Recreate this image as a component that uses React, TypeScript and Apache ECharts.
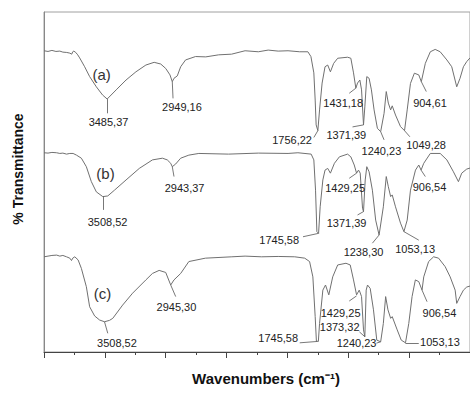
import React, { useEffect, useRef } from "react";
import * as echarts from "echarts";

// Wavenumber (cm-1), relative transmittance (offset per spectrum)
const curveA: [number, number][] = [
  [4000, 88.6], [3967, 88.4], [3935, 88.7], [3902, 88.4], [3870, 88.5], [3845, 88.2], [3813, 88.1],
  [3788, 87.9], [3772, 87.6], [3764, 88.3], [3755, 88.5], [3739, 88.1], [3723, 87.4], [3707, 86.5],
  [3666, 83.9], [3625, 81.0], [3570, 78.0], [3519, 75.6], [3481, 74.4], [3407, 77.1], [3326, 80.0],
  [3245, 82.4], [3163, 84.4], [3095, 85.2], [3041, 84.7], [3000, 83.4], [2965, 81.5], [2946, 79.5],
  [2932, 80.5], [2905, 81.2], [2877, 83.9], [2837, 85.9], [2755, 86.9], [2671, 86.8], [2565, 87.4],
  [2459, 87.6], [2348, 88.6], [2239, 88.3], [2158, 88.8], [2076, 88.5], [1995, 88.6], [1899, 88.3],
  [1832, 88.3], [1807, 86.9], [1783, 82.1], [1772, 74.1], [1764, 66.8], [1750, 65.1], [1736, 71.2],
  [1715, 79.1], [1691, 83.9], [1669, 84.4], [1647, 82.4], [1620, 84.9], [1587, 86.4], [1506, 86.7],
  [1479, 86.4], [1457, 82.1], [1438, 77.6], [1424, 79.1], [1405, 80.0], [1391, 77.1], [1375, 66.8],
  [1364, 72.1], [1348, 81.0], [1329, 80.5], [1310, 77.1], [1288, 71.2], [1261, 65.8], [1234, 64.8],
  [1206, 70.2], [1188, 76.6], [1171, 73.2], [1152, 71.2], [1139, 72.4], [1112, 69.7], [1071, 66.3],
  [1038, 65.1], [1016, 71.2], [989, 79.0], [957, 82.0], [921, 81.5], [900, 79.5], [867, 84.9],
  [826, 88.3], [786, 89.0], [745, 88.3], [690, 85.9], [650, 83.9], [609, 78.0], [582, 80.5],
  [554, 83.9], [527, 85.4], [500, 86.5],
];

const curveB: [number, number][] = [
  [4000, 58.6], [3967, 58.5], [3935, 58.7], [3896, 58.6], [3870, 58.4], [3845, 58.5], [3815, 58.2],
  [3788, 58.4], [3761, 58.4], [3733, 57.9], [3693, 57.0], [3652, 54.5], [3611, 50.1], [3570, 47.1],
  [3517, 45.7], [3476, 45.9], [3421, 47.6], [3326, 50.6], [3217, 54.0], [3109, 56.5], [3027, 57.0],
  [2987, 56.5], [2959, 55.5], [2946, 54.5], [2918, 55.3], [2877, 57.0], [2810, 57.9], [2728, 58.4],
  [2484, 58.2], [2239, 58.5], [1995, 58.4], [1914, 58.6], [1805, 58.2], [1783, 56.5], [1769, 47.6],
  [1758, 35.4], [1744, 34.9], [1731, 42.7], [1709, 50.6], [1691, 53.5], [1669, 54.0], [1647, 52.6],
  [1614, 55.5], [1573, 57.4], [1506, 58.2], [1479, 57.4], [1451, 55.0], [1432, 52.6], [1416, 53.5],
  [1402, 52.6], [1383, 42.3], [1375, 41.3], [1361, 50.6], [1348, 54.5], [1329, 53.0], [1302, 47.6],
  [1275, 38.8], [1247, 34.4], [1212, 42.7], [1188, 51.6], [1171, 48.6], [1152, 45.7], [1139, 46.2],
  [1112, 42.7], [1071, 37.9], [1043, 35.4], [1016, 38.8], [989, 47.6], [948, 53.5], [921, 55.0],
  [902, 53.5], [880, 55.5], [826, 58.4], [745, 58.4], [690, 56.5], [636, 53.0], [595, 50.1],
  [568, 52.6], [527, 53.8], [500, 54.1],
];

const curveC: [number, number][] = [
  [4000, 28.0], [3967, 28.2], [3935, 28.4], [3896, 28.5], [3870, 28.2], [3845, 28.4], [3815, 28.0],
  [3788, 27.6], [3774, 26.9], [3764, 27.6], [3747, 28.0], [3720, 27.1], [3693, 24.6], [3652, 19.2],
  [3625, 13.3], [3584, 10.6], [3543, 9.4], [3503, 8.9], [3462, 9.3], [3435, 9.9], [3354, 13.8],
  [3272, 17.3], [3163, 21.2], [3109, 23.1], [3054, 24.0], [3000, 23.4], [2959, 19.7], [2932, 21.2],
  [2877, 23.1], [2810, 26.6], [2674, 27.6], [2457, 28.0], [2348, 28.2], [2212, 28.0], [2076, 28.1],
  [1940, 28.0], [1858, 27.6], [1818, 26.6], [1791, 22.1], [1772, 10.4], [1762, 3.2], [1746, 3.1],
  [1736, 8.4], [1709, 18.2], [1687, 19.7], [1660, 16.8], [1628, 22.1], [1587, 25.6], [1519, 26.1],
  [1484, 25.6], [1457, 21.2], [1432, 16.8], [1410, 18.2], [1391, 16.3], [1375, 6.5], [1364, 4.5],
  [1353, 18.2], [1342, 19.7], [1320, 18.7], [1293, 12.4], [1266, 3.5], [1234, 3.0], [1212, 8.4],
  [1193, 16.3], [1174, 12.4], [1152, 9.9], [1139, 10.4], [1098, 6.5], [1065, 3.5], [1030, 2.7],
  [1003, 8.4], [976, 16.3], [949, 21.2], [921, 20.7], [894, 18.2], [880, 22.1], [840, 26.6],
  [799, 28.0], [758, 27.6], [704, 25.1], [663, 22.1], [622, 18.2], [609, 14.3], [582, 16.3],
  [554, 18.2], [527, 19.1], [500, 19.4],
];

// Peak annotations: text, point on the curve, end of the leader line, label centre
type Peak = { text: string; at: [number, number]; lead: [number, number]; pos: [number, number] };

const peaksA: Peak[] = [
  { text: "3485,37", at: [3481, 74.4], lead: [3484, 70.2], pos: [3470, 67.7] },
  { text: "2949,16", at: [2946, 79.5], lead: [2940, 74.6], pos: [2867, 72.1] },
  { text: "1756,22", at: [1750, 65.1], lead: [1783, 63.1], pos: [1962, 62.4] },
  { text: "1431,18", at: [1438, 77.6], lead: [1492, 76.1], pos: [1542, 73.1] },
  { text: "1371,39", at: [1375, 66.8], lead: [1465, 66.2], pos: [1516, 63.8] },
  { text: "1240,23", at: [1234, 64.8], lead: [1206, 62.4], pos: [1228, 59.2] },
  { text: "1049,28", at: [1038, 65.1], lead: [994, 63.3], pos: [861, 60.9] },
  { text: "904,61", at: [900, 79.5], lead: [859, 76.6], pos: [829, 73.1] },
];
const peaksB: Peak[] = [
  { text: "3508,52", at: [3517, 45.7], lead: [3517, 41.8], pos: [3478, 38.3] },
  { text: "2943,37", at: [2946, 54.5], lead: [2932, 51.6], pos: [2845, 48.3] },
  { text: "1745,58", at: [1744, 34.9], lead: [1872, 33.9], pos: [2068, 32.9] },
  { text: "1429,25", at: [1432, 52.6], lead: [1492, 51.1], pos: [1526, 48.1] },
  { text: "1371,39", at: [1375, 41.3], lead: [1424, 40.3], pos: [1514, 37.9] },
  { text: "1238,30", at: [1247, 34.4], lead: [1302, 32.0], pos: [1375, 29.5] },
  { text: "1053,13", at: [1043, 35.4], lead: [921, 32.9], pos: [951, 30.2] },
  { text: "906,54", at: [902, 53.5], lead: [867, 51.6], pos: [833, 48.6] },
];
const peaksC: Peak[] = [
  { text: "3508,52", at: [3503, 8.9], lead: [3476, 5.5], pos: [3401, 2.7] },
  { text: "2945,30", at: [2959, 19.7], lead: [2918, 16.3], pos: [2912, 13.3] },
  { text: "1745,58", at: [1756, 3.1], lead: [1899, 2.7], pos: [2076, 4.0] },
  { text: "1429,25", at: [1432, 16.5], lead: [1492, 15.0], pos: [1563, 11.4] },
  { text: "1373,32", at: [1364, 4.5], lead: [1408, 5.9], pos: [1571, 7.4] },
  { text: "1240,23", at: [1234, 3.0], lead: [1269, 2.6], pos: [1432, 2.7] },
  { text: "1053,13", at: [1030, 2.7], lead: [921, 2.7], pos: [747, 3.0] },
  { text: "906,54", at: [894, 18.2], lead: [853, 14.8], pos: [751, 11.4] },
];

const curveTags: { text: string; pos: [number, number] }[] = [
  { text: "(a)", pos: [3527, 81.5] },
  { text: "(b)", pos: [3495, 52.6] },
  { text: "(c)", pos: [3519, 17.3] },
];

const FONT = "'Liberation Sans', Arial, Helvetica, sans-serif";
const LINE = "#707070";

function makeSeries(name: string, data: [number, number][], peaks: Peak[], tag: { text: string; pos: [number, number] }) {
  return {
    type: "line",
    name,
    data,
    showSymbol: false,
    symbol: "none",
    silent: true,
    lineStyle: { color: LINE, width: 1 },
    markLine: {
      silent: true,
      symbol: ["none", "none"],
      lineStyle: { color: "#555", width: 0.8, type: "solid" },
      label: { show: false },
      emphasis: { disabled: true },
      data: peaks.map((p) => [{ coord: p.at }, { coord: p.lead }]),
    },
    markPoint: {
      silent: true,
      symbol: "rect",
      symbolSize: 0.1,
      itemStyle: { color: "rgba(0,0,0,0)" },
      label: {
        show: true,
        position: "inside",
        color: "#222",
        fontSize: 11,
        fontFamily: FONT,
        formatter: (p: any) => p.name,
      },
      data: [
        ...peaks.map((p) => ({ name: p.text, coord: p.pos })),
        { name: tag.text, coord: tag.pos, label: { fontSize: 15, color: "#333" } },
      ],
    },
  };
}

export default function App() {
  const ref = useRef<HTMLDivElement>(null);
  useEffect(() => {
    if (!ref.current) return;
    const chart = echarts.init(ref.current, undefined, { renderer: "svg" });
    chart.setOption({
      animation: false,
      backgroundColor: "#ffffff",
      grid: {
        left: 44,
        top: 12,
        right: -4,
        bottom: 45,
        show: true,
        borderColor: "#a0a0a0",
        borderWidth: 1,
        backgroundColor: "transparent",
      },
      xAxis: {
        type: "value",
        inverse: true,
        min: 500,
        max: 4000,
        interval: 500,
        axisLine: { show: true, onZero: false, lineStyle: { color: "#444", width: 1 } },
        axisTick: { show: true, inside: false, length: 6, lineStyle: { color: "#444" } },
        minorTick: { show: true, splitNumber: 2, length: 3, lineStyle: { color: "#444" } },
        axisLabel: { show: false },
        splitLine: { show: false },
      },
      yAxis: {
        type: "value",
        min: 0,
        max: 100,
        axisLine: { show: true, lineStyle: { color: "#888", width: 1 } },
        axisTick: { show: false },
        axisLabel: { show: false },
        splitLine: { show: false },
      },
      graphic: [
        {
          type: "text",
          x: 266,
          y: 378,
          style: {
            text: "Wavenumbers (cm⁻¹)",
            font: `bold 15px ${FONT}`,
            fill: "#111",
            align: "center",
            verticalAlign: "middle",
          },
        },
        {
          type: "text",
          x: 18,
          y: 169,
          rotation: Math.PI / 2,
          style: {
            text: "% Transmittance",
            font: `bold 14px ${FONT}`,
            fill: "#111",
            align: "center",
            verticalAlign: "middle",
          },
        },
      ],
      series: [
        makeSeries("a", curveA, peaksA, curveTags[0]),
        makeSeries("b", curveB, peaksB, curveTags[1]),
        makeSeries("c", curveC, peaksC, curveTags[2]),
      ],
    });
    return () => chart.dispose();
  }, []);
  return (
    <div
      ref={ref}
      style={{ position: "absolute", left: 0, top: 0, width: 470, height: 397, background: "#fff" }}
    />
  );
}
